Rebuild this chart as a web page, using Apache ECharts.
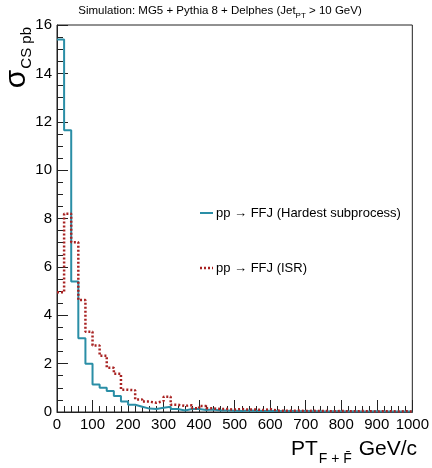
<!DOCTYPE html>
<html>
<head>
<meta charset="utf-8">
<script src="https://cdn.jsdelivr.net/npm/echarts@6/dist/echarts.min.js"></script>
<style>
html,body{margin:0;padding:0;background:#fff;}
#chart{width:432px;height:468px;}
</style>
</head>
<body>
<div id="chart"></div>
<script>
// Bin edges (GeV/c), 20 GeV bins from 0 to 1000
const binEdges = [0,20,40,60,80,100,120,140,160,180,200,220,240,260,280,300,320,340,360,380,
  400,420,440,460,480,500,520,540,560,580,600,620,640,660,680,700,720,740,760,780,
  800,820,840,860,880,900,920,940,960,980,1000];

const seriesNames = ["pp \u2192 FFJ (Hardest subprocess)", "pp \u2192 FFJ (ISR)"];

// Cross-section per bin (pb)
const hardestValues = [15.4, 11.65, 5.4, 3.05, 2.0, 1.14, 1.0, 0.87, 0.66, 0.43,
  0.3, 0.22, 0.14, 0.12, 0.18, 0.22, 0.12, 0.06, 0.12, 0.12,
  0.08, 0.1, 0.06, 0.06, 0.05, 0.04, 0.06, 0.05, 0.04, 0.05,
  0.04, 0.03, 0.04, 0.03, 0.04, 0.03, 0.03, 0.02, 0.03, 0.03,
  0.02, 0.03, 0.02, 0.02, 0.03, 0.02, 0.02, 0.02, 0.02, 0.02];

const isrValues = [4.95, 8.2, 7.02, 4.63, 3.32, 2.75, 2.33, 1.83, 1.58, 0.92,
  0.9, 0.52, 0.43, 0.38, 0.45, 0.63, 0.3, 0.25, 0.28, 0.15,
  0.25, 0.15, 0.12, 0.12, 0.1, 0.12, 0.1, 0.1, 0.08, 0.12,
  0.06, 0.05, 0.05, 0.06, 0.04, 0.05, 0.04, 0.04, 0.03, 0.04,
  0.03, 0.03, 0.04, 0.03, 0.02, 0.03, 0.03, 0.02, 0.03, 0.02];

const titleText = "Simulation: MG5 + Pythia 8 + Delphes (Jet";
const titleSub = "PT";
const titleEnd = " > 10 GeV)";

const TEAL = '#2a8ea6';
const RED = '#a82222';

function histPoints(vals) {
  const pts = [];
  for (let i = 0; i < vals.length; i++) pts.push([binEdges[i], vals[i]]);
  pts.push([binEdges[binEdges.length - 1], vals[vals.length - 1]]);
  return pts;
}

const FONT = "Liberation Sans";
const chart = echarts.init(document.getElementById('chart'), null, {renderer: 'canvas'});

chart.setOption({
  animation: false,
  backgroundColor: '#fff',
  grid: {left: 57, right: 15, top: 25, bottom: 56, show: true, borderColor: '#222', borderWidth: 1, backgroundColor: 'transparent'},
  xAxis: {
    type: 'value', min: 0, max: 1000, interval: 100,
    axisLine: {show: true, lineStyle: {color: '#222', width: 1}},
    axisTick: {show: true, inside: true, length: 12, lineStyle: {color: '#222'}},
    minorTick: {show: true, splitNumber: 5, length: 6, lineStyle: {color: '#222'}},
    splitLine: {show: false},
    axisLabel: {fontFamily: FONT, fontSize: 15, color: '#000', margin: 5, formatter: function (v) { return String(v); }}
  },
  yAxis: {
    type: 'value', min: 0, max: 16, interval: 2,
    axisLine: {show: true, lineStyle: {color: '#222', width: 1}},
    axisTick: {show: true, inside: true, length: 11, lineStyle: {color: '#222'}},
    minorTick: {show: true, splitNumber: 4, length: 6, lineStyle: {color: '#222'}},
    splitLine: {show: false},
    axisLabel: {fontFamily: FONT, fontSize: 15, color: '#000', margin: 5}
  },
  series: [
    {
      name: seriesNames[0], type: 'line', step: 'end', symbol: 'none',
      data: histPoints(hardestValues),
      lineStyle: {color: TEAL, width: 2},
      itemStyle: {color: TEAL}
    },
    {
      name: seriesNames[1], type: 'line', step: 'end', symbol: 'none',
      data: histPoints(isrValues),
      lineStyle: {color: RED, width: 2.5, type: [2, 2]},
      itemStyle: {color: RED}
    }
  ],
  graphic: [
    {
      type: 'text', x: 220, y: 11,
      style: {
        text: '{a|' + titleText + '}{s|' + titleSub + '}{a|' + titleEnd + '}',
        align: 'center', verticalAlign: 'middle',
        rich: {
          a: {fontFamily: FONT, fontSize: 11.5, fill: '#000'},
          s: {fontFamily: FONT, fontSize: 8, fill: '#000', padding: [9, 0, 0, 0]}
        }
      }
    },
    // legend
    {type: 'line', shape: {x1: 200, y1: 213, x2: 213, y2: 213}, style: {stroke: TEAL, lineWidth: 2}},
    {type: 'text', x: 216, y: 213, style: {text: seriesNames[0], fontFamily: FONT, fontSize: 13, fill: '#000', align: 'left', verticalAlign: 'middle'}},
    {type: 'line', shape: {x1: 200, y1: 268, x2: 213, y2: 268}, style: {stroke: RED, lineWidth: 2.5, lineDash: [2, 2]}},
    {type: 'text', x: 216, y: 268, style: {text: seriesNames[1], fontFamily: FONT, fontSize: 13, fill: '#000', align: 'left', verticalAlign: 'middle'}},
    {
      type: 'text', x: 417, y: 449,
      style: {
        text: '{a|PT}{s|F + F\u0304}{a| GeV/c}',
        align: 'right', verticalAlign: 'middle',
        rich: {
          a: {fontFamily: FONT, fontSize: 21, fill: '#000'},
          s: {fontFamily: FONT, fontSize: 14, fill: '#000', padding: [20, 1, 0, 1]}
        }
      }
    },
    {
      type: 'text', x: 17, y: 27, rotation: Math.PI / 2,
      style: {
        text: '{s|\u03c3}{c|CS pb}',
        align: 'right', verticalAlign: 'middle',
        rich: {
          s: {fontFamily: FONT, fontSize: 30, fill: '#000'},
          c: {fontFamily: FONT, fontSize: 15, fill: '#000', padding: [20, 0, 0, 1]}
        }
      }
    }
  ]
});
</script>
</body>
</html>
